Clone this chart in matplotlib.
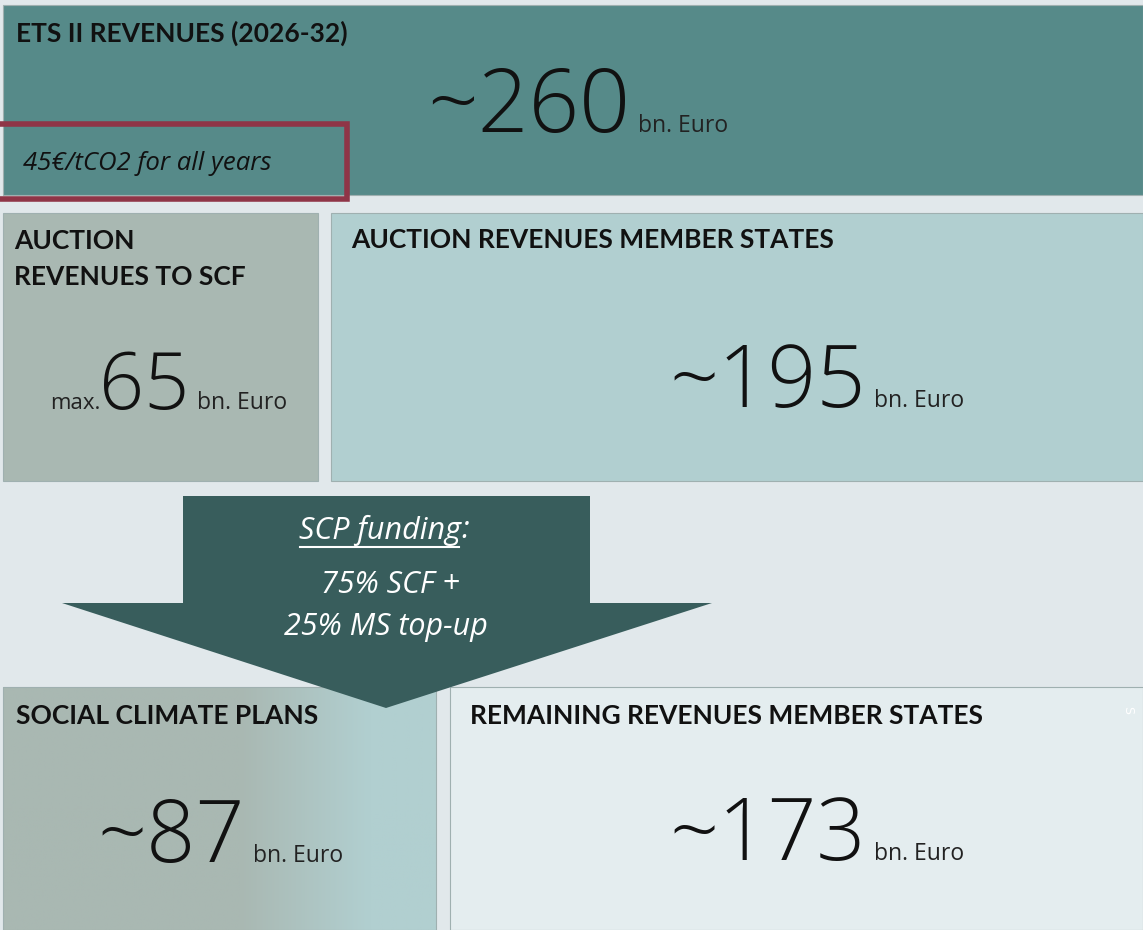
import matplotlib
matplotlib.use("Agg")
import matplotlib.pyplot as plt
from matplotlib.patches import Rectangle, Polygon
from matplotlib import font_manager
import numpy as np

# ---- data ----
box_titles = [["ETS II REVENUES (2026-32)"], ["AUCTION", "REVENUES TO SCF"],
              ["AUCTION REVENUES MEMBER STATES"], ["SOCIAL CLIMATE PLANS"],
              ["REMAINING REVENUES MEMBER STATES"]]
box_values = [260, 65, 195, 87, 173]
box_prefix = ["~", "", "~", "~", "~"]
box_pre_small = ["", "max.", "", "", ""]
unit = "bn. Euro"
price_note = "45€/tCO2 for all years"
arrow_head = "SCP funding"
arrow_lines = ["75% SCF +", "25% MS top-up"]

W, H = 1143, 930
fig = plt.figure(figsize=(W / 100, H / 100), dpi=100)
ax = fig.add_axes([0, 0, 1, 1])
ax.set_xlim(0, W)
ax.set_ylim(H, 0)
ax.axis("off")
BG = "#e1e8eb"
fig.patch.set_facecolor(BG)

names = {f.name for f in font_manager.fontManager.ttflist}
TF = "Lato" if "Lato" in names else "DejaVu Sans"
NF = "Open Sans" if "Open Sans" in names else "DejaVu Sans"

# boxes: x0, y0, x1, y1, color
boxes = [
    (3, 5, 1143, 195, "#568a89"),
    (3, 213, 318, 481, "#a9b8b2"),
    (331, 213, 1143, 481, "#b1cfd0"),
    (3, 687, 436, 930, None),
    (450, 687, 1143, 930, "#e4edef"),
]
for x0, y0, x1, y1, c in boxes:
    if c is not None:
        ax.add_patch(Rectangle((x0, y0), x1 - x0, y1 - y0, facecolor=c,
                               edgecolor="#9fb0b0", lw=0.8, zorder=1))

# gradient box
x0, y0, x1, y1 = boxes[3][:4]
c1 = np.array([0xa9, 0xb8, 0xb2]) / 255
c2 = np.array([0xb1, 0xcf, 0xd0]) / 255
xs = np.linspace(x0, x1, 400)
t = np.clip((xs - 240) / (370 - 240), 0, 1)
grad = (c1[None, :] * (1 - t[:, None]) + c2[None, :] * t[:, None])[None, :, :]
ax.imshow(grad, extent=(x0, x1, y1, y0), aspect="auto", zorder=1)
ax.add_patch(Rectangle((x0, y0), x1 - x0, y1 - y0, facecolor="none",
                       edgecolor="#9fb0b0", lw=0.8, zorder=1.5))

# red highlight frame
ax.add_patch(Rectangle((-10, 124), 357, 75, facecolor="none",
                       edgecolor="#8f3547", lw=4, zorder=3))

# titles
title_pos = [(16, 33), (14, 241), (351, 240), (16, 716), (470, 716)]
for (tx, ty), lines in zip(title_pos, box_titles):
    for i, line in enumerate(lines):
        ax.text(tx, ty + 36 * i, line, fontsize=19, fontweight="bold", family=TF,
                color="#111111", va="center", ha="left", zorder=4)

ax.text(23, 164, price_note, fontsize=18.5, style="italic", family=NF,
        color="#111111", va="center", ha="left", zorder=4)

# arrow
arrow = Polygon([(183, 496), (590, 496), (590, 603), (712, 603), (386, 708),
                 (62, 603), (183, 603)], closed=True, facecolor="#385d5c",
                edgecolor="none", zorder=5)
ax.add_patch(arrow)

fig.canvas.draw()
r = fig.canvas.get_renderer()
inv = ax.transData.inverted()
AF = 22
h1 = ax.text(380, 530, arrow_head, fontsize=AF, style="italic", family=NF,
             color="white", ha="center", va="center", zorder=6)
bb = h1.get_window_extent(r)
(bx0, by0), (bx1, by1) = inv.transform([(bb.x0, bb.y0), (bb.x1, bb.y1)])
ax.text(bx1, 530, ":", fontsize=AF, style="italic", family=NF,
        color="white", ha="left", va="center", zorder=6)
ax.plot([bx0 + 1, bx1 - 2], [547, 547], color="white", lw=1.5, zorder=6)
ax.text(390, 585, arrow_lines[0], fontsize=AF, style="italic", family=NF,
        color="white", ha="center", va="center", zorder=6)
ax.text(386, 627, arrow_lines[1], fontsize=AF, style="italic", family=NF,
        color="white", ha="center", va="center", zorder=6)

# big numbers: right edge of number, baseline
num_pos = [(630, 132), (189, 409), (866, 407), (245, 862), (866, 860)]
num_size = [64, 57, 62, 62, 62]
for (nx, ny), fs, pre, small, v in zip(num_pos, num_size, box_prefix,
                                       box_pre_small, box_values):
    tn = ax.text(nx, ny, f"{pre}{v}", fontsize=fs, fontweight="light", family=NF,
                 color="#111111", ha="right", va="baseline", zorder=4)
    ax.text(nx + 8, ny, unit, fontsize=16.5, family=NF, color="#222222",
            ha="left", va="baseline", zorder=4)
    if small:
        b = tn.get_window_extent(r)
        lx = inv.transform((b.x0, b.y0))[0]
        ax.text(lx + 2, ny, small, fontsize=16, family=NF, color="#222222",
                ha="right", va="baseline", zorder=4)

ax.text(1128, 710, "S", fontsize=9, color="white", rotation=-90,
        ha="center", va="center", zorder=4)

fig.savefig("out.png", dpi=100, facecolor=BG)
